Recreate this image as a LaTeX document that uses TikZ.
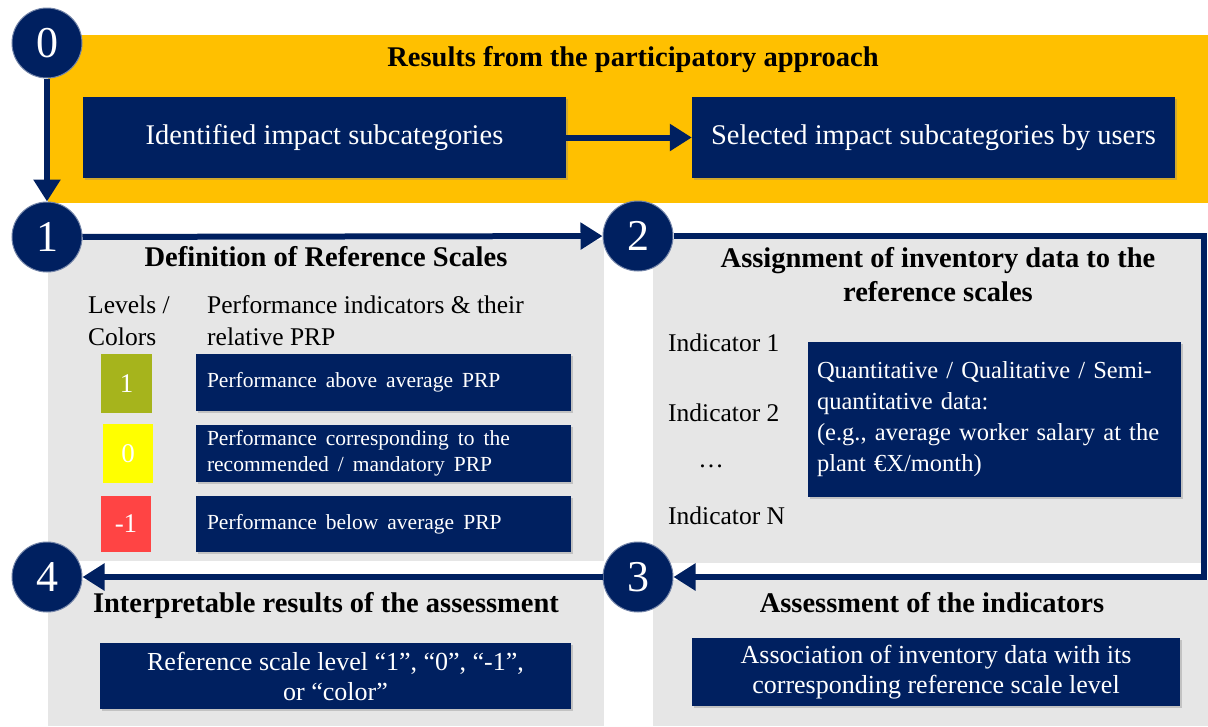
\documentclass[tikz,border=0pt]{standalone}
\usepackage{fontspec}
\setmainfont{Liberation Serif}
\usetikzlibrary{arrows.meta,shadows}
\definecolor{navy}{HTML}{002060}
\definecolor{orangeband}{HTML}{FFC000}
\definecolor{panelgray}{HTML}{E6E6E6}
\definecolor{lvgreen}{HTML}{A6B41C}
\definecolor{lvyellow}{HTML}{FFFF00}
\definecolor{lvred}{HTML}{FF4444}
\newcommand{\fs}[2]{\fontsize{#1}{#2}\selectfont}
\newcommand{\widesp}{\spaceskip=0.42em plus 0.1em\relax}
\tikzset{
  navybox/.style={fill=navy, text=white, inner sep=0pt, align=center,
    drop shadow={shadow xshift=2pt, shadow yshift=-2pt, opacity=0.35}},
  stepcircle/.style={circle, fill=navy, draw=navy!55!white, line width=1pt,
    minimum size=70pt, inner sep=0pt, text=white, font=\fs{44}{44}},
  flow/.style={navy, line width=6pt, -{Triangle[length=22pt,width=26pt]}},
  heading/.style={font=\bfseries\fs{28.5}{34}, align=center, inner sep=0pt},
  plain/.style={font=\fs{25.5}{32}, align=left, inner sep=0pt},
  lvbox/.style={text=white, font=\fs{27}{27}, inner sep=0pt},
  perfbox/.style={navybox, align=left, text width=353pt, inner xsep=11pt,
    font=\fs{21.5}{26}},
}
\begin{document}
\begin{tikzpicture}[x=1pt,y=-1pt]
\useasboundingbox (0,0) rectangle (1208,726);
% backgrounds
\fill[orangeband] (48,35) rectangle (1208,203);
\fill[panelgray] (48,240) rectangle (604,561);
\fill[panelgray] (653,239) rectangle (1204,563);
\fill[panelgray] (48,580) rectangle (604,726);
\fill[panelgray] (653,580) rectangle (1208,726);
% step 0 content
\node[heading] (t0) at (633,60) {Results from the participatory approach};
\node[navybox, minimum width=483pt, minimum height=81pt, font=\fs{28.5}{30}] (ident) at (324.5,137.5) {Identified impact subcategories};
\node[navybox, minimum width=483pt, minimum height=81pt, font=\fs{28.5}{30}] (sel) at (933.5,137.5) {Selected impact subcategories by users};
\draw[flow] (ident) -- (sel);
% step 1 content
\node[heading] (t1) at (326,257) {Definition of Reference Scales};
\node[plain, anchor=west] (lev) at (88,321) {Levels /\\Colors};
\node[plain, anchor=west] (pi) at (207,321) {Performance indicators \& their\\relative PRP};
\node[lvbox, fill=lvgreen, minimum width=51pt, minimum height=59pt] (g) at (126.5,383.5) {1};
\node[lvbox, fill=lvyellow, minimum width=50pt, minimum height=59pt] (y) at (128,453.5) {0};
\node[lvbox, fill=lvred, minimum width=50pt, minimum height=56pt] (r) at (126,524) {-1};
\node[perfbox, minimum height=57pt] (p1) at (383.5,382.5) {\widesp Performance above average PRP};
\node[perfbox, minimum height=57pt] (p0) at (383.5,453.5) {\widesp Performance corresponding to the\\recommended / mandatory PRP};
\node[perfbox, minimum height=56pt] (pm) at (383.5,524) {\widesp Performance below average PRP};
% step 2 content
\node[heading] (t2) at (938,275) {Assignment of inventory data to the\\reference scales};
\node[plain, anchor=west] (i1) at (668,343) {Indicator 1};
\node[plain, anchor=west] (i2) at (668,413) {Indicator 2};
\node[plain] (idots) at (711,466) {\dots};
\node[plain, anchor=west] (iN) at (668,516) {Indicator N};
\node[navybox, align=left, text width=355pt, inner xsep=9pt, minimum height=155pt, font=\fs{24.5}{31}] (qd) at (994.5,419.5) {Quantitative / Qualitative / Semi-\\quantitative data:\\(e.g., average worker salary at the\\plant €X/month)};
% step 4 content
\node[heading] (t4) at (326,605) {Interpretable results of the assessment};
\node[navybox, minimum width=471pt, minimum height=66pt, font=\fs{26}{30}] (res) at (335.5,676) {Reference scale level “1”, “0”, “-1”,\\or “color”};
% step 3 content
\node[heading] (t3) at (932,603) {Assessment of the indicators};
\node[navybox, minimum width=488pt, minimum height=68pt, font=\fs{26}{30}] (assoc) at (936,672) {Association of inventory data with its\\corresponding reference scale level};
% circles
\node[stepcircle] (c0) at (47,43) {0};
\node[stepcircle] (c1) at (47,237) {1};
\node[stepcircle] (c2) at (638,236) {2};
\node[stepcircle] (c3) at (638,577) {3};
\node[stepcircle] (c4) at (47,577) {4};
\coordinate (k1) at (1204,236);
\coordinate (k2) at (1204,577);
% connectors
\draw[flow] (c0) -- (c1);
\draw[flow] (c1) -- (c2);
\draw[flow, line join=miter] (c2.east) -- (k1) -- (k2) -- (c3);
\draw[flow] (c3) -- (c4);
\end{tikzpicture}
\end{document}
